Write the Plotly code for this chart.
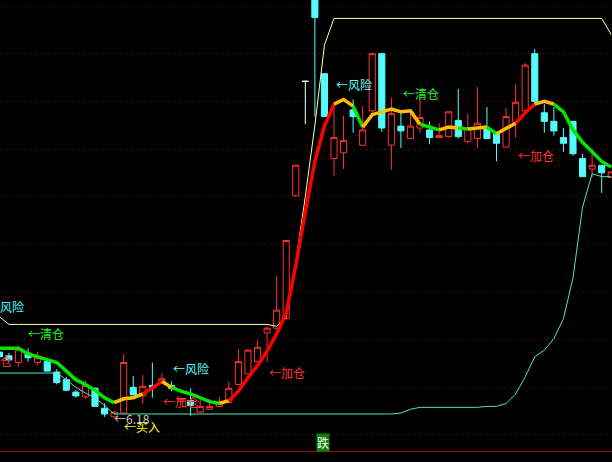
import plotly.graph_objects as go

# ---------------- data ----------------
days = list(range(65))

open_ = [6.87, 6.83, 6.76, 6.86, 6.76, 6.77, 6.66, 6.58, 6.45, 6.40,
         6.49, 6.28, 6.19, 6.23, 6.50, 6.41, 6.52, 6.55, 6.52, 6.35,
         6.36, 6.24, 6.27, 6.30, 6.34, 6.53, 6.64, 6.77, 7.07, 7.12,
         7.22, 8.51, 9.71, 10.68, 9.79, 8.90, 8.96, 9.41, 9.04, 9.40,
         10.00, 9.04, 9.24, 9.11, 9.22, 9.20, 9.12, 9.13, 9.30, 9.08,
         9.11, 9.21, 9.16, 9.02, 9.28, 9.40, 10.00, 9.38, 9.29, 9.12,
         9.29, 8.90, 8.79, 8.83, 8.70]
high = [6.89, 6.86, 6.90, 6.91, 6.87, 6.81, 6.69, 6.61, 6.47, 6.57,
        6.50, 6.33, 6.25, 6.85, 6.62, 6.63, 6.76, 6.65, 6.56, 6.40,
        6.49, 6.37, 6.38, 6.40, 6.56, 6.90, 6.90, 6.99, 7.14, 7.67,
        8.04, 8.83, 9.71, 10.68, 9.79, 9.48, 9.35, 9.52, 9.45, 10.00,
        10.01, 9.54, 9.41, 9.41, 9.54, 9.29, 9.27, 9.39, 9.63, 9.37,
        9.65, 9.44, 9.16, 9.43, 9.68, 9.90, 10.05, 9.47, 9.44, 9.22,
        9.29, 8.95, 9.01, 8.83, 8.76]
low = [6.81, 6.77, 6.72, 6.77, 6.73, 6.67, 6.53, 6.46, 6.39, 6.38,
       6.30, 6.19, 6.18, 6.23, 6.42, 6.33, 6.39, 6.55, 6.46, 6.34,
       6.20, 6.24, 6.27, 6.29, 6.33, 6.53, 6.64, 6.77, 6.77, 7.11,
       7.21, 8.50, 9.26, 9.34, 9.34, 8.72, 8.79, 9.17, 9.04, 9.36,
       9.18, 8.78, 9.01, 9.11, 9.17, 9.05, 9.12, 9.12, 9.11, 9.06,
       9.01, 9.11, 8.87, 9.02, 9.12, 9.40, 9.47, 9.17, 9.14, 8.97,
       8.93, 8.71, 8.70, 8.54, 8.70]
close = [6.82, 6.79, 6.90, 6.81, 6.81, 6.67, 6.55, 6.47, 6.41, 6.52,
         6.30, 6.22, 6.24, 6.76, 6.42, 6.51, 6.50, 6.59, 6.49, 6.38,
         6.31, 6.30, 6.30, 6.35, 6.49, 6.77, 6.89, 6.92, 7.12, 7.31,
         8.04, 8.83, 9.71, 10.38, 9.34, 9.12, 9.09, 9.34, 9.20, 10.00,
         9.22, 9.37, 9.19, 9.24, 9.33, 9.12, 9.14, 9.39, 9.13, 9.22,
         9.27, 9.11, 9.06, 9.34, 9.49, 9.88, 9.50, 9.29, 9.19, 9.06,
         8.95, 8.71, 8.83, 8.75, 8.76]

# thick trend line and its signal state per segment (G fall, O flat, R rise)
trend_line = [6.91, 6.91, 6.91, 6.85, 6.82, 6.79, 6.76, 6.67, 6.58, 6.53,
              6.47, 6.39, 6.34, 6.38, 6.39, 6.43, 6.49, 6.56, 6.50, 6.46,
              6.43, 6.39, 6.35, 6.33, 6.36, 6.46, 6.60, 6.73, 6.88, 7.06,
              7.28, 7.78, 8.34, 8.87, 9.24, 9.47, 9.52, 9.45, 9.23, 9.36,
              9.39, 9.42, 9.39, 9.40, 9.26, 9.23, 9.20, 9.23, 9.22, 9.21,
              9.22, 9.23, 9.16, 9.22, 9.27, 9.38, 9.47, 9.50, 9.47, 9.39,
              9.20, 9.07, 8.97, 8.87, 8.81]
trend_state = list("GGGGGGGGGGGGOOORROGGGGGORRRRRRRRRRROOGOOOOOOGGOOGOOGOORROOGGGGGGG")

upper_band = [7.24, 7.16, 7.16, 7.16, 7.16, 7.16, 7.16, 7.16, 7.16, 7.16,
              7.16, 7.16, 7.16, 7.16, 7.16, 7.16, 7.16, 7.16, 7.16, 7.16,
              7.16, 7.16, 7.16, 7.16, 7.16, 7.16, 7.16, 7.16, 7.16, 7.14,
              7.23, 7.81, 8.50, 9.25, 10.09, 10.37, 10.37, 10.37, 10.37, 10.37,
              10.37, 10.37, 10.37, 10.37, 10.37, 10.37, 10.37, 10.37, 10.37, 10.37,
              10.37, 10.37, 10.37, 10.37, 10.37, 10.37, 10.37, 10.37, 10.37, 10.37,
              10.37, 10.37, 10.37, 10.37, 10.20]
lower_band = [6.65, 6.65, 6.65, 6.65, 6.65, 6.65, 6.65, 6.58, 6.50, 6.44,
              6.39, 6.31, 6.22, 6.22, 6.22, 6.22, 6.22, 6.22, 6.22, 6.22,
              6.22, 6.22, 6.22, 6.22, 6.22, 6.22, 6.22, 6.22, 6.22, 6.22,
              6.22, 6.22, 6.22, 6.22, 6.22, 6.22, 6.22, 6.22, 6.22, 6.22,
              6.22, 6.22, 6.23, 6.27, 6.29, 6.29, 6.29, 6.29, 6.29, 6.29,
              6.29, 6.30, 6.30, 6.33, 6.43, 6.61, 6.82, 6.89, 7.01, 7.22,
              7.65, 8.39, 8.74, 8.71, 8.71]

# signal labels: (text, day, price, colour kind, anchor side)
label_text = ["←风险", "←清仓", "←加仓", "←6.18", "←买入", "←风险", "←加仓",
              "←加仓", "←风险", "←清仓", "←加仓"]
label_day = [2.68, 2.89, 1.42, 11.88, 12.93, 18.05, 17.01, 28.1, 35.1, 42.1, 54.14]
label_price = [7.35, 7.06, 6.78, 6.17, 6.09, 6.70, 6.35, 6.66, 9.68, 9.58, 8.93]
label_kind = ["risk", "clear", "add", "low", "buy", "risk", "add", "add", "risk", "clear", "add"]
label_side = ["right", "left", "right", "left", "left", "left", "left", "left", "left", "left", "left"]

fall_label = "跌"
fall_day = 33.9
fall_price = 5.92

# ---------------- styles ----------------
RED = "#FF3232"
CYAN = "#54FCFC"
state_color = {"G": "#00E600", "O": "#FFBE00", "R": "#FF0000"}
kind_color = {"risk": "#54FCFC", "clear": "#22F022", "add": "#FF3232",
              "low": "#C8C8C8", "buy": "#FFFF00"}
FONT = "Noto Sans CJK SC"

fig = go.Figure()

# regular candles
reg = [i for i in days if close[i] != open_[i]]
fig.add_trace(go.Candlestick(
    x=[days[i] for i in reg],
    open=[open_[i] for i in reg], high=[high[i] for i in reg],
    low=[low[i] for i in reg], close=[close[i] for i in reg],
    increasing=dict(line=dict(color=RED, width=1), fillcolor="#000000"),
    decreasing=dict(line=dict(color=CYAN, width=1), fillcolor=CYAN),
    whiskerwidth=0, hoverinfo="skip", showlegend=False))

# doji (open == close) drawn white
dj = [i for i in days if close[i] == open_[i]]
fig.add_trace(go.Candlestick(
    x=[days[i] for i in dj],
    open=[open_[i] for i in dj], high=[high[i] for i in dj],
    low=[low[i] for i in dj], close=[close[i] for i in dj],
    increasing=dict(line=dict(color="#FFFFFF", width=1), fillcolor="#FFFFFF"),
    decreasing=dict(line=dict(color="#FFFFFF", width=1), fillcolor="#FFFFFF"),
    whiskerwidth=0, hoverinfo="skip", showlegend=False))

# bands
fig.add_trace(go.Scatter(x=days, y=lower_band, mode="lines",
                         line=dict(color="#50E8A8", width=1),
                         hoverinfo="skip", showlegend=False))
fig.add_trace(go.Scatter(x=days, y=upper_band, mode="lines",
                         line=dict(color="#FFFFB0", width=1),
                         hoverinfo="skip", showlegend=False))

# thick trend line coloured by state runs
start = 0
n_seg = len(days) - 1
for d in range(1, n_seg + 1):
    if d == n_seg or trend_state[d] != trend_state[start]:
        xs = days[start:d + 1]
        ys = trend_line[start:d + 1]
        fig.add_trace(go.Scatter(x=xs, y=ys, mode="lines",
                                 line=dict(color=state_color[trend_state[start]], width=3.5),
                                 hoverinfo="skip", showlegend=False))
        start = d

annotations = []
for t, dx, py, k, side in zip(label_text, label_day, label_price, label_kind, label_side):
    annotations.append(dict(x=dx, y=py, xref="x", yref="y", text=t, showarrow=False,
                            xanchor=side, yanchor="middle", borderpad=0,
                            font=dict(family=FONT, size=12, color=kind_color[k])))
annotations.append(dict(x=fall_day, y=fall_price, xref="x", yref="y", text=fall_label,
                        showarrow=False, xanchor="center", yanchor="middle",
                        bgcolor="#0A820A", borderpad=0,
                        font=dict(family=FONT, size=12, color="#FFFFFF")))

fig.update_layout(
    width=612, height=462,
    margin=dict(l=0, r=0, t=0, b=11),
    paper_bgcolor="#000000", plot_bgcolor="#000000",
    showlegend=False,
    boxgap=0.2, boxgroupgap=0.2,
    annotations=annotations,
    xaxis=dict(range=[0.063, 64.08], showgrid=False, zeroline=False,
               showticklabels=False, ticks="", showline=True,
               linecolor="#B40000", linewidth=1,
               rangeslider=dict(visible=False)),
    yaxis=dict(range=[5.832, 10.563], showgrid=True, gridcolor="#A00000",
               griddash="1px,5px", gridwidth=1, tick0=6.0, dtick=0.5,
               zeroline=False, showticklabels=False, ticks=""),
)

fig.write_html("out.html",
               config={"displayModeBar": False},
               post_script="document.body.style.margin='0';document.body.style.background='#000';")
